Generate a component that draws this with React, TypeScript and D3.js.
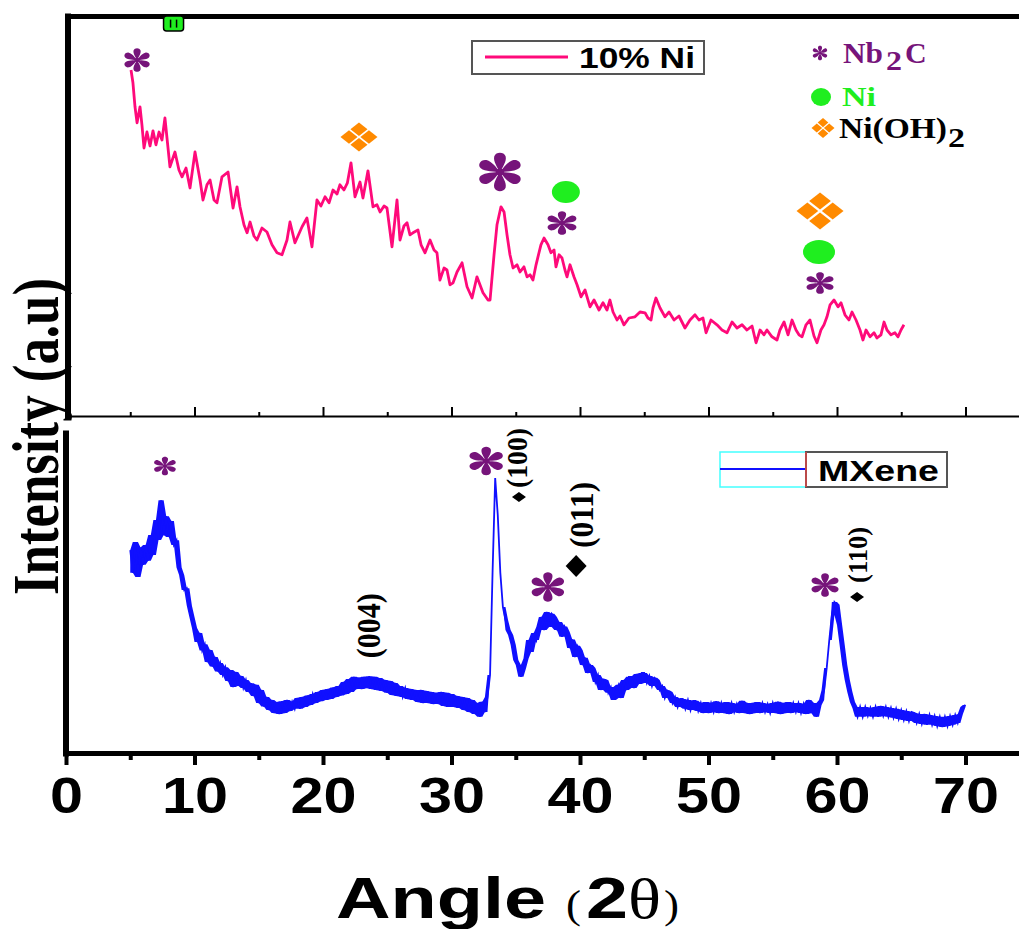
import * as d3 from "d3";
import { useEffect, useRef } from "react";

const W = 1019;
const H = 929;
const SANS = "'Liberation Sans', Arial, sans-serif";
const SERIF = "'Liberation Serif', 'Times New Roman', serif";

const PINK = "#ff0a7a";
const BLUE = "#1010ff";
const PURPLE = "#76147a";
const GREEN = "#1fee1f";
const ORANGE = "#ff8a00";

const majorTicks = [0, 10, 20, 30, 40, 50, 60, 70];
const minorTicks = [5, 15, 25, 35, 45, 55, 65, 75];

// 10% Ni pattern, [2theta, intensity a.u.]
const ni10 = [
  [5.06, 86.5], [5.21, 83.3], [5.37, 77.3], [5.53, 73.3], [5.76, 77.3], [5.91, 72.8], [6.07, 67], [6.3, 71],
  [6.54, 67.5], [6.77, 71.3], [7.0, 67.8], [7.24, 71], [7.47, 69], [7.7, 74.5], [8.09, 62.3], [8.48, 66],
  [8.79, 61.5], [9.03, 59.8], [9.34, 62], [9.65, 57], [10.04, 66], [10.43, 59], [10.66, 54], [10.97, 57.8],
  [11.21, 59], [11.52, 54], [11.75, 53.3], [12.14, 59.8], [12.61, 61], [13.0, 52], [13.31, 57.3], [13.54, 52.3],
  [13.85, 47.8], [14.09, 45.8], [14.32, 48.5], [14.63, 45], [14.86, 44], [15.25, 47], [15.64, 46], [16.03, 42.8],
  [16.42, 40.8], [16.81, 40.3], [17.2, 44], [17.43, 48.5], [17.82, 43.3], [18.37, 47.3], [18.75, 49.5], [19.14, 42.3],
  [19.53, 54], [19.84, 52.5], [20.16, 54.8], [20.47, 53.3], [20.78, 56.5], [21.09, 55.5], [21.32, 57.8], [21.63, 56.5],
  [21.9, 58.3], [22.18, 63.3], [22.49, 54.8], [22.88, 58.5], [23.11, 54.5], [23.5, 61.3], [23.89, 52.3], [24.2, 52.8],
  [24.44, 51], [24.75, 52.5], [24.98, 52], [25.37, 42.3], [25.76, 54], [25.99, 44], [26.3, 47.5], [26.54, 48.3],
  [26.77, 45.3], [27.0, 45.8], [27.39, 46.5], [27.63, 42.8], [27.94, 40.8], [28.33, 44], [28.64, 41.5], [28.87, 40.8],
  [29.1, 34], [29.42, 37], [29.65, 36.5], [29.88, 32.8], [30.12, 33.3], [30.43, 36], [30.82, 38.3], [31.21, 32.3],
  [31.6, 29.5], [31.98, 34.8], [32.45, 30.8], [32.84, 29], [33.0, 29], [33.31, 40.3], [33.54, 47.8], [33.85, 52.3],
  [34.09, 51], [34.32, 45.3], [34.55, 40.3], [34.79, 37], [35.1, 37.8], [35.33, 36], [35.64, 37.3], [35.88, 34.8],
  [36.11, 35.3], [36.34, 34], [36.58, 37.8], [36.73, 39.8], [36.96, 42.8], [37.2, 44.5], [37.51, 42.8], [37.74, 40.8],
  [37.98, 41.5], [38.13, 37.3], [38.37, 40.3], [38.6, 39.5], [38.83, 36.5], [38.99, 34.8], [39.22, 37.8], [39.53, 34.8],
  [39.77, 32.8], [40.08, 29.8], [40.39, 31.5], [40.78, 27.3], [41.09, 29], [41.48, 26.5], [41.79, 28.3], [42.1, 26.5],
  [42.33, 29], [42.57, 26], [42.88, 24], [43.11, 25], [43.42, 22.8], [43.81, 24.5], [44.28, 24.8], [44.67, 26],
  [45.06, 25.8], [45.29, 24.5], [45.53, 24], [45.68, 27], [45.91, 29.5], [46.23, 27], [46.61, 24.8], [46.93, 26],
  [47.32, 24], [47.7, 25], [48.17, 22], [48.56, 24], [48.95, 25.3], [49.26, 24], [49.57, 24.5], [49.81, 20.8],
  [50.19, 24], [50.66, 22.8], [51.05, 21.5], [51.44, 20.8], [51.83, 23.5], [52.22, 22], [52.61, 22.8], [52.99, 21.5],
  [53.39, 22.5], [53.7, 18.3], [54.01, 21.5], [54.32, 20.3], [54.55, 21.5], [54.94, 19.8], [55.33, 19], [55.56, 21.5],
  [55.88, 23.5], [56.19, 20.3], [56.5, 24], [56.81, 21.5], [57.04, 20.3], [57.28, 19.8], [57.59, 22.8], [57.9, 24],
  [58.21, 20], [58.44, 18.3], [58.75, 21.5], [58.99, 22.8], [59.22, 24.8], [59.46, 27.8], [59.77, 29], [60.08, 27.3],
  [60.31, 28.3], [60.62, 25.3], [60.93, 24], [61.17, 26], [61.48, 24], [61.79, 21.5], [62.02, 19], [62.26, 21.5],
  [62.57, 19.8], [62.88, 20.8], [63.11, 19.5], [63.42, 20.3], [63.66, 23.5], [63.89, 21.5], [64.2, 20.3], [64.51, 20.8],
  [64.75, 19.8], [64.98, 21.5], [65.21, 22.8],
];

// MXene pattern, sampled every 0.2 deg from 5 deg
const mxeneStart = 5;
const mxeneStep = 0.2;
const mxene = [
  63.4, 56.3, 65.9, 55.0, 64.2, 58.8, 65.0, 60.1, 68.1, 61.9,
  72.8, 66.6, 79.0, 68.1, 74.0, 67.5, 72.5, 65.0, 66.5, 58.0,
  55.6, 50.9, 51.5, 46.0, 42.5, 39.1, 34.7, 37.5, 32.0, 34.0,
  28.4, 32.2, 27.0, 30.0, 25.5, 28.1, 24.4, 26.8, 22.5, 25.9,
  20.6, 25.3, 21.0, 24.1, 20.3, 22.8, 19.1, 21.8, 17.8, 21.3,
  15.6, 19.7, 14.5, 17.5, 13.4, 16.6, 12.5, 15.9, 12.2, 16.2,
  12.5, 16.6, 13.1, 16.0, 13.8, 17.2, 13.8, 17.5, 14.4, 18.0,
  15.0, 18.4, 15.6, 19.1, 16.2, 19.7, 16.6, 20.0, 16.9, 20.5,
  17.5, 20.9, 18.0, 22.2, 18.4, 23.1, 19.1, 23.8, 20.0, 23.5,
  20.0, 23.8, 20.3, 24.0, 20.0, 23.8, 19.7, 23.4, 19.4, 22.8,
  18.8, 22.5, 18.1, 21.9, 17.8, 20.9, 17.5, 20.3, 16.9, 20.0,
  16.6, 19.7, 15.9, 19.7, 15.6, 19.4, 15.6, 19.1, 15.3, 18.8,
  15.3, 19.1, 14.7, 18.8, 14.4, 18.4, 14.4, 17.8, 14.1, 17.5,
  13.4, 17.2, 12.8, 16.6, 12.2, 15.6, 11.3, 16.0, 12.8, 17.5,
  24.4, 57.2, 85.9, 74.4, 56.3, 45.6, 41.6, 38.4, 36.9, 33.8,
  29.1, 27.5, 23.8, 26.5, 29.5, 35.3, 31.6, 37.5, 35.3, 39.4,
  42.5, 38.4, 44.1, 39.4, 43.5, 42.5, 38.4, 40.9, 36.3, 39.5,
  37.8, 32.8, 35.5, 30.0, 33.5, 32.2, 27.5, 29.8, 25.0, 27.5,
  26.6, 22.2, 24.4, 19.7, 23.0, 22.8, 18.8, 20.6, 16.6, 19.5,
  21.3, 17.2, 22.8, 19.7, 23.8, 23.8, 20.3, 24.7, 21.6, 25.0,
  25.0, 21.9, 24.1, 20.9, 23.5, 22.8, 19.7, 20.9, 17.2, 19.5,
  19.1, 15.6, 17.5, 14.4, 16.9, 16.9, 13.8, 16.6, 13.4, 16.3,
  16.3, 13.1, 15.6, 12.5, 15.9, 12.5, 15.6, 12.8, 16.2, 12.5,
  15.6, 12.5, 15.9, 12.2, 15.6, 12.8, 15.3, 12.5, 16.3, 12.5,
  15.6, 12.2, 15.6, 12.5, 15.9, 12.5, 15.6, 12.8, 15.3, 12.5,
  15.6, 12.5, 16.0, 12.2, 15.6, 12.5, 15.9, 12.5, 15.6, 12.8,
  15.6, 12.5, 15.3, 12.2, 16.6, 12.5, 15.6, 11.3, 15.0, 16.6,
  19.7, 26.6, 35.3, 43.1, 47.2, 46.3, 40.0, 33.8, 27.5, 22.8,
  19.1, 15.9, 14.1, 11.3, 14.4, 11.3, 14.4, 11.6, 14.1, 11.3,
  14.4, 11.3, 14.7, 11.6, 14.4, 11.3, 14.1, 11.0, 13.8, 10.6,
  13.4, 10.3, 13.1, 10.0, 12.8, 12.5, 9.4, 12.2, 9.1, 12.2,
  8.8, 11.9, 8.8, 11.6, 8.4, 11.3, 8.1, 11.3, 8.4, 11.6,
  8.8, 11.9, 9.4, 12.2, 14.4, 15.0,
];

// phase markers in the 10% Ni panel
const topMarks = [
  { kind: "star", angle: 5.53, level: 89, w: 28, h: 24 },
  { kind: "quad", angle: 22.8, level: 69.75, w: 37, h: 29 },
  { kind: "star", angle: 33.77, level: 61, w: 46, h: 39 },
  { kind: "dot", angle: 38.9, level: 56, w: 28, h: 22 },
  { kind: "star", angle: 38.6, level: 48.25, w: 32, h: 24 },
  { kind: "quad", angle: 58.68, level: 51.25, w: 47, h: 37 },
  { kind: "dot", angle: 58.6, level: 41, w: 32, h: 24 },
  { kind: "star", angle: 58.68, level: 33.25, w: 30, h: 22 },
  { kind: "icon", angle: 8.37, level: 98.1, w: 20, h: 15 },
];

// phase markers in the MXene panel
const bottomMarks = [
  { kind: "star", angle: 7.7, level: 89.7, w: 24, h: 19 },
  { kind: "star", angle: 32.7, level: 91.25, w: 37, h: 29 },
  { kind: "star", angle: 37.5, level: 51.9, w: 36, h: 30 },
  { kind: "star", angle: 59.07, level: 52.5, w: 30, h: 24 },
  { kind: "diamond", angle: 35.25, level: 80, w: 14, h: 10 },
  { kind: "diamond", angle: 39.7, level: 58.4, w: 21, h: 22 },
  { kind: "diamond", angle: 61.56, level: 48.75, w: 14, h: 10 },
];

const hklLabels = [
  { text: "(100)", angle: 35.88, level: 92.2, size: 29, len: 60 },
  { text: "(011)", angle: 41.05, level: 74.4, size: 34, len: 66 },
  { text: "(004)", angle: 24.4, level: 39.8, size: 34, len: 65 },
  { text: "(110)", angle: 62.33, level: 61.9, size: 28, len: 56 },
];

// teardrop petal pointing along +x, unit length
const PETAL = "M0,0 C0.22,-0.1 0.55,-0.3 0.8,-0.24 C1.03,-0.17 1.03,0.17 0.8,0.24 C0.55,0.3 0.22,0.1 0,0Z";

function drawStar(g, cx, cy, w, h, color) {
  const s = g.append("g").attr("transform", `translate(${cx},${cy}) scale(${w / 1.95},${h / 1.98})`);
  [90, 30, -30, -90, 150, 210].forEach((a) => {
    s.append("path").attr("transform", `rotate(${a})`).attr("d", PETAL).attr("fill", color);
  });
  s.append("circle").attr("r", 0.18).attr("fill", color);
}

function diamondPath(cx, cy, d) {
  return `M${cx},${cy - d}L${cx + d},${cy}L${cx},${cy + d}L${cx - d},${cy}Z`;
}

function drawQuad(g, cx, cy, w, h, color) {
  const s = g.append("g").attr("transform", `translate(${cx},${cy}) scale(${w / 1.04},${h / 1.04})`);
  [[0, -0.28], [0, 0.28], [-0.28, 0], [0.28, 0]].forEach(([dx, dy]) => {
    s.append("path").attr("d", diamondPath(dx, dy, 0.24)).attr("fill", color);
  });
}

function drawMark(g, m, x, y) {
  const cx = x(m.angle);
  const cy = y(m.level);
  if (m.kind === "star") drawStar(g, cx, cy, m.w, m.h, PURPLE);
  if (m.kind === "quad") drawQuad(g, cx, cy, m.w, m.h, ORANGE);
  if (m.kind === "dot") g.append("ellipse").attr("cx", cx).attr("cy", cy).attr("rx", m.w / 2).attr("ry", m.h / 2).attr("fill", GREEN);
  if (m.kind === "diamond") {
    g.append("path")
      .attr("transform", `translate(${cx},${cy}) scale(${m.w / 2},${m.h / 2})`)
      .attr("d", diamondPath(0, 0, 1)).attr("fill", "#000");
  }
  if (m.kind === "icon") {
    g.append("rect").attr("x", cx - m.w / 2).attr("y", cy - m.h / 2).attr("width", m.w).attr("height", m.h)
      .attr("rx", 3).attr("fill", GREEN).attr("stroke", "#000").attr("stroke-width", 1.5);
    [-3, 3].forEach((dx) => {
      g.append("line").attr("x1", cx + dx).attr("x2", cx + dx).attr("y1", cy - 4).attr("y2", cy + 4)
        .attr("stroke", "#000").attr("stroke-width", 1.5);
    });
  }
}

const XrdChart = () => {
  const svgRef = useRef(null);

  useEffect(() => {
    const svg = d3.select(svgRef.current);
    svg.selectAll("*").remove();

    const x = d3.scaleLinear().domain([0, 75]).range([66, 66 + 75 * 12.85]);
    const yTop = d3.scaleLinear().domain([0, 100]).range([416, 16]);
    const yBot = d3.scaleLinear().domain([0, 100]).range([753, 433]);

    // ---- top panel frame
    const topBottom = svg.append("g").attr("transform", "translate(0,416)")
      .call(d3.axisBottom(x).tickValues(majorTicks).tickSizeInner(-9).tickSizeOuter(0).tickFormat(() => ""));
    topBottom.select(".domain").attr("stroke-width", 2.2);
    topBottom.selectAll(".tick line").attr("stroke-width", 2);
    const topMinor = svg.append("g").attr("transform", "translate(0,416)")
      .call(d3.axisBottom(x).tickValues(minorTicks).tickSizeInner(-4).tickSizeOuter(0).tickFormat(() => ""));
    topMinor.select(".domain").remove();
    topMinor.selectAll(".tick line").attr("stroke-width", 2);

    const topBorder = svg.append("g").attr("transform", "translate(0,16)")
      .call(d3.axisTop(x).tickValues([]).tickSizeOuter(0));
    topBorder.select(".domain").attr("stroke-width", 5);

    const topLeft = svg.append("g").attr("transform", `translate(${x(0) + 1.5},0)`)
      .call(d3.axisLeft(yTop).tickValues([]).tickSizeOuter(0));
    topLeft.select(".domain").attr("stroke-width", 6).attr("stroke-linecap", "square");

    // ---- bottom panel frame
    const botLeft = svg.append("g").attr("transform", `translate(${x(0) - 0.5},0)`)
      .call(d3.axisLeft(yBot).tickValues([]).tickSizeOuter(0));
    botLeft.select(".domain").attr("stroke-width", 6).attr("stroke-linecap", "square");

    const botMinor = svg.append("g").attr("transform", "translate(0,753)")
      .call(d3.axisBottom(x).tickValues(minorTicks).tickSizeInner(7).tickSizeOuter(0).tickFormat(() => ""));
    botMinor.select(".domain").remove();
    botMinor.selectAll(".tick line").attr("stroke-width", 4);

    const botAxis = svg.append("g").attr("transform", "translate(0,753)")
      .call(d3.axisBottom(x).tickValues(majorTicks).tickSizeInner(12).tickSizeOuter(0).tickFormat(d3.format("d")));
    botAxis.select(".domain").attr("stroke-width", 5);
    botAxis.selectAll(".tick line").attr("stroke-width", 4);
    botAxis.selectAll(".tick text")
      .attr("y", 60).attr("dy", null)
      .attr("fill", "#000")
      .attr("font-family", SANS).attr("font-weight", "bold").attr("font-size", 50)
      .attr("textLength", (d) => String(d).length * 33)
      .attr("lengthAdjust", "spacingAndGlyphs");

    // ---- curves
    const lineTop = d3.line().x((d) => x(d[0])).y((d) => yTop(d[1]));
    svg.append("path").datum(ni10)
      .attr("fill", "none").attr("stroke", PINK).attr("stroke-width", 2.8)
      .attr("stroke-linejoin", "round").attr("d", lineTop);

    // MXene: noise band between neighbouring samples (not across the sharp peaks), then the trace
    const mxenePts = mxene.map((v, i) => {
      const win = mxene.slice(Math.max(0, i - 1), i + 2);
      const lo = d3.min(win);
      const hi = d3.max(win);
      const noisy = hi - lo < 14;
      return { a: mxeneStart + i * mxeneStep, v, lo: noisy ? lo : v, hi: noisy ? hi : v };
    });
    const band = d3.area().x((d) => x(d.a)).y0((d) => yBot(d.lo)).y1((d) => yBot(d.hi));
    svg.append("path").datum(mxenePts)
      .attr("fill", BLUE).attr("stroke", "none").attr("d", band);
    const lineBot = d3.line().x((d) => x(d.a)).y((d) => yBot(d.v));
    svg.append("path").datum(mxenePts)
      .attr("fill", "none").attr("stroke", BLUE).attr("stroke-width", 1.8)
      .attr("stroke-linejoin", "miter").attr("d", lineBot);

    // ---- markers
    const mk = svg.append("g");
    topMarks.forEach((m) => drawMark(mk, m, x, yTop));
    bottomMarks.forEach((m) => drawMark(mk, m, x, yBot));

    hklLabels.forEach((l) => {
      mk.append("text")
        .attr("transform", `translate(${x(l.angle)},${yBot(l.level)}) rotate(-90)`)
        .attr("text-anchor", "middle")
        .attr("font-family", SERIF).attr("font-weight", "bold").attr("font-size", l.size)
        .attr("textLength", l.len).attr("lengthAdjust", "spacingAndGlyphs")
        .text(l.text);
    });

    // ---- legend: 10% Ni
    const lg = svg.append("g");
    lg.append("rect").attr("x", 472).attr("y", 41).attr("width", 232).attr("height", 33)
      .attr("fill", "#fff").attr("stroke", "#555").attr("stroke-width", 2);
    lg.append("line").attr("x1", 485).attr("x2", 568).attr("y1", 57).attr("y2", 57)
      .attr("stroke", PINK).attr("stroke-width", 3);
    lg.append("text").attr("x", 579).attr("y", 68)
      .attr("font-family", SANS).attr("font-weight", "bold").attr("font-size", 29)
      .attr("textLength", 116).attr("lengthAdjust", "spacingAndGlyphs")
      .text("10% Ni");

    // ---- legend: MXene
    lg.append("rect").attr("x", 720).attr("y", 452).attr("width", 86).attr("height", 35)
      .attr("fill", "#fff").attr("stroke", "#44ffff").attr("stroke-width", 1.5);
    lg.append("line").attr("x1", 720).attr("x2", 806).attr("y1", 469).attr("y2", 469)
      .attr("stroke", BLUE).attr("stroke-width", 2);
    lg.append("rect").attr("x", 806).attr("y", 452).attr("width", 141).attr("height", 35)
      .attr("fill", "#fff").attr("stroke", "#555").attr("stroke-width", 2);
    lg.append("line").attr("x1", 806).attr("x2", 806).attr("y1", 452).attr("y2", 487)
      .attr("stroke", "#ff4444").attr("stroke-width", 1.2);
    lg.append("text").attr("x", 818).attr("y", 481)
      .attr("font-family", SANS).attr("font-weight", "bold").attr("font-size", 29)
      .attr("textLength", 121).attr("lengthAdjust", "spacingAndGlyphs")
      .text("MXene");

    // ---- phase key
    drawStar(lg, 820, 53, 16, 15, PURPLE);
    const nb = lg.append("text").attr("font-family", SERIF).attr("font-weight", "bold").attr("fill", PURPLE);
    nb.append("tspan").attr("x", 843).attr("y", 63).attr("font-size", 30)
      .attr("textLength", 40).attr("lengthAdjust", "spacingAndGlyphs").text("Nb");
    nb.append("tspan").attr("x", 886).attr("y", 70).attr("font-size", 28)
      .attr("textLength", 16).attr("lengthAdjust", "spacingAndGlyphs").text("2");
    nb.append("tspan").attr("x", 905).attr("y", 63).attr("font-size", 30).text("C");

    lg.append("ellipse").attr("cx", 821).attr("cy", 97).attr("rx", 10).attr("ry", 9).attr("fill", GREEN);
    lg.append("text").attr("x", 842).attr("y", 106)
      .attr("font-family", SERIF).attr("font-weight", "bold").attr("font-size", 28)
      .attr("textLength", 34).attr("lengthAdjust", "spacingAndGlyphs")
      .attr("fill", GREEN).text("Ni");

    drawQuad(lg, 823, 128, 23, 20, ORANGE);
    const oh = lg.append("text").attr("font-family", SERIF).attr("font-weight", "bold").attr("fill", "#000");
    oh.append("tspan").attr("x", 839).attr("y", 138).attr("font-size", 30)
      .attr("textLength", 108).attr("lengthAdjust", "spacingAndGlyphs").text("Ni(OH)");
    oh.append("tspan").attr("x", 948).attr("y", 147).attr("font-size", 27)
      .attr("textLength", 17).attr("lengthAdjust", "spacingAndGlyphs").text("2");

    // ---- axis titles
    svg.append("text")
      .attr("transform", "translate(58,436.5) rotate(-90)")
      .attr("text-anchor", "middle")
      .attr("font-family", SERIF).attr("font-weight", "bold").attr("font-size", 65)
      .attr("textLength", 317).attr("lengthAdjust", "spacingAndGlyphs")
      .text("Intensity (a.u)");

    const t = svg.append("g");
    const base = 918;
    t.append("text").attr("x", 336).attr("y", base)
      .attr("font-family", SANS).attr("font-weight", "bold").attr("font-size", 58)
      .attr("textLength", 210).attr("lengthAdjust", "spacingAndGlyphs").text("Angle");
    t.append("text").attr("x", 566).attr("y", base)
      .attr("font-family", SERIF).attr("font-size", 41)
      .attr("textLength", 15).attr("lengthAdjust", "spacingAndGlyphs").text("(");
    t.append("text").attr("x", 586).attr("y", base)
      .attr("font-family", SANS).attr("font-weight", "bold").attr("font-size", 58)
      .attr("textLength", 42).attr("lengthAdjust", "spacingAndGlyphs").text("2");
    t.append("text").attr("x", 628).attr("y", base)
      .attr("font-family", SERIF).attr("font-size", 56)
      .attr("textLength", 33).attr("lengthAdjust", "spacingAndGlyphs").text("θ");
    t.append("text").attr("x", 664).attr("y", base)
      .attr("font-family", SERIF).attr("font-size", 41)
      .attr("textLength", 15).attr("lengthAdjust", "spacingAndGlyphs").text(")");
  }, []);

  return (
    <svg
      ref={svgRef}
      width={W}
      height={H}
      style={{ position: "absolute", left: 0, top: 0, background: "#fff", display: "block" }}
    />
  );
};

export default function App() {
  return <XrdChart />;
}
